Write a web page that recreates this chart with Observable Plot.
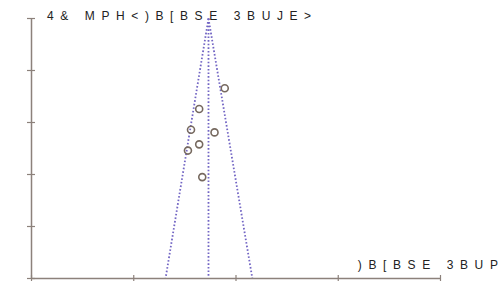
<!DOCTYPE html>
<html><head><meta charset="utf-8">
<script src="https://cdn.jsdelivr.net/npm/d3@7"></script>
<script src="https://cdn.jsdelivr.net/npm/@observablehq/plot@0.6"></script>
<style>
html,body{margin:0;padding:0;background:#fff;}
svg{font-family:"Liberation Sans",Arial,sans-serif;}
</style>
</head><body><div id="chart"></div>
<script>
const xTicks = [0, 1, 2, 3, 4];
const yTicks = [0, 1, 2, 3, 4, 5];
const studyX = [1.89, 1.64, 1.56, 1.79, 1.64, 1.53, 1.67];
const studyY = [1.34, 1.74, 2.14, 2.19, 2.42, 2.54, 3.05];
const pooled = 1.731;
const funnelLeftX = [1.731, 1.311];
const funnelRightX = [1.731, 2.16];
const funnelY = [0, 5];
const centerY = [0, 4.95];
const yLabel = "4& MPH<)B[BSE 3BUJE>";
const xLabel = ")B[BSE 3BUP";

const studies = studyX.map((x, i) => ({x, y: studyY[i]}));
const left = funnelLeftX.map((x, i) => ({x, y: funnelY[i]}));
const right = funnelRightX.map((x, i) => ({x, y: funnelY[i]}));
const center = centerY.map(y => ({x: pooled, y}));

const axisColor = "#8c817b";
const lineColor = "#7265c4";
const dash = "1.6 2";
const lineOpts = {x: "x", y: "y", stroke: lineColor, strokeWidth: 1.8, strokeDasharray: dash, strokeLinecap: "butt"};

const chart = Plot.plot({
  width: 504, height: 294,
  marginLeft: 31, marginRight: 64, marginTop: 18, marginBottom: 16,
  x: {domain: [0, 4], axis: null},
  y: {domain: [0, 5], reverse: true, axis: null},
  marks: [
    Plot.line(left, lineOpts),
    Plot.line(right, lineOpts),
    Plot.line(center, lineOpts),
    Plot.dot(studies, {x: "x", y: "y", r: 3.5, stroke: "#76695f", strokeWidth: 1.6, fill: "none"}),
    Plot.ruleX([0], {stroke: axisColor, strokeWidth: 1.5}),
    Plot.ruleY([5], {stroke: axisColor, strokeWidth: 1.5}),
    Plot.axisY(yTicks, {tickSize: 8, dx: 4, tickFormat: () => "", stroke: axisColor, strokeWidth: 1.2, label: null}),
    Plot.axisX(xTicks, {tickSize: 6, dy: -3, tickFormat: () => "", stroke: axisColor, strokeWidth: 1.2, label: null}),
    Plot.text([yLabel], {frameAnchor: "top-left", text: d => d, dx: 15.5, dy: 1.5, lineAnchor: "bottom", textAnchor: "start", fontSize: 12, fill: "#222"}),
    Plot.text([xLabel], {frameAnchor: "bottom-right", text: d => d, dx: 64, dy: -10, lineAnchor: "bottom", textAnchor: "end", fontSize: 12, fill: "#222"})
  ]
});
d3.select(chart).selectAll("text").attr("letter-spacing", "6.6px");
document.getElementById("chart").appendChild(chart);
</script></body></html>
